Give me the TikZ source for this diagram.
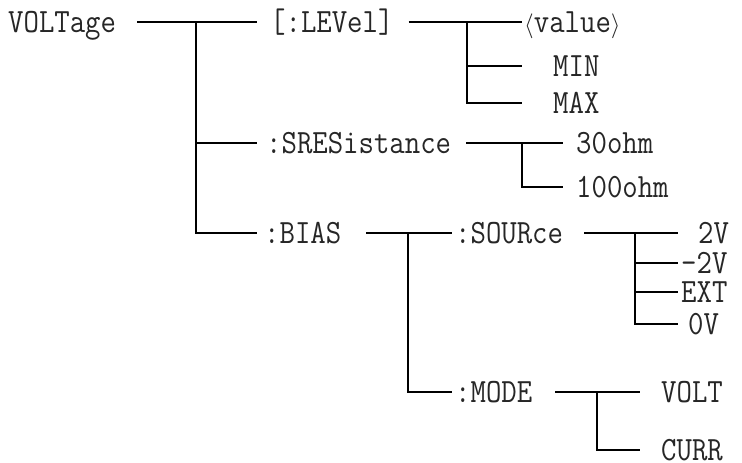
\documentclass[tikz,border=0pt]{standalone}
\usepackage{fontspec}
\newfontfamily\cmdfont{Latin Modern Mono}[FakeStretch=0.88]
\begin{document}
\begin{tikzpicture}[x=1pt, y=-1pt,
	lbl/.style={anchor=west, inner xsep=0pt, inner ysep=0pt, text height=21pt, text depth=0pt,
		font=\cmdfont\fontsize{34}{34}\selectfont, text=black!85},
	tree/.style={line width=1.4pt}]
	
	\useasboundingbox (0,0) rectangle (742,463);
	
	% commands
	\node[lbl] (volt) at (8,22) {VOLTage};
	\node[lbl] (lev) at (270,22) {[:LEVel]};
	\node[lbl] (sres) at (266,143) {:SRESistance};
	\node[lbl] (bias) at (264,233) {:BIAS};
	\node[lbl] (src) at (455,233) {:SOURce};
	\node[lbl] (mode) at (455,392) {:MODE};
	
	% parameters
	\node[lbl] (val) at (524,22) {$\langle$value$\rangle$};
	\node[lbl] (min) at (553,66) {MIN};
	\node[lbl] (max) at (553,103) {MAX};
	\node[lbl] (r30) at (576,143) {30ohm};
	\node[lbl] (r100) at (576,187) {100ohm};
	\node[lbl] (v2) at (698,233) {2V};
	\node[lbl] (vm2) at (681,263) {-2V};
	\node[lbl] (ext) at (681,292) {EXT};
	\node[lbl] (v0) at (688,324) {0V};
	\node[lbl] (vlt) at (661,392) {VOLT};
	\node[lbl] (cur) at (661,450) {CURR};
	
	% junctions
	\coordinate (jv) at (196,22);
	\coordinate (jl) at (467,22);
	\coordinate (jr) at (522,143);
	\coordinate (jb) at (408,233);
	\coordinate (js) at (635,233);
	\coordinate (jm) at (597,392);
	
	% VOLTage
	\draw[tree, shorten <=21pt, shorten >=13pt] (volt) -- (lev);
	\draw[tree, shorten >=9pt] (jv) |- (sres);
	\draw[tree, shorten >=7pt] (jv) |- (bias);
	
	% [:LEVel]
	\draw[tree, shorten <=15pt, shorten >=2pt] (lev) -- (val);
	\draw[tree, shorten >=31pt] (jl) |- (min);
	\draw[tree, shorten >=31pt] (jl) |- (max);
	
	% :SRESistance
	\draw[tree, shorten <=15pt, shorten >=13pt] (sres) -- (r30);
	\draw[tree, shorten >=13pt] (jr) |- (r100);
	
	% :BIAS
	\draw[tree, shorten <=25pt, shorten >=3pt] (bias) -- (src);
	\draw[tree, shorten >=3pt] (jb) |- (mode);
	
	% :SOURce
	\draw[tree, shorten <=21pt, shorten >=20pt] (src) -- (v2);
	\draw[tree, shorten >=3pt] (js) |- (vm2);
	\draw[tree, shorten >=3pt] (js) |- (ext);
	\draw[tree, shorten >=10pt] (js) |- (v0);
	
	% :MODE
	\draw[tree, shorten <=23pt, shorten >=21pt] (mode) -- (vlt);
	\draw[tree, shorten >=21pt] (jm) |- (cur);
	
\end{tikzpicture}
\end{document}
